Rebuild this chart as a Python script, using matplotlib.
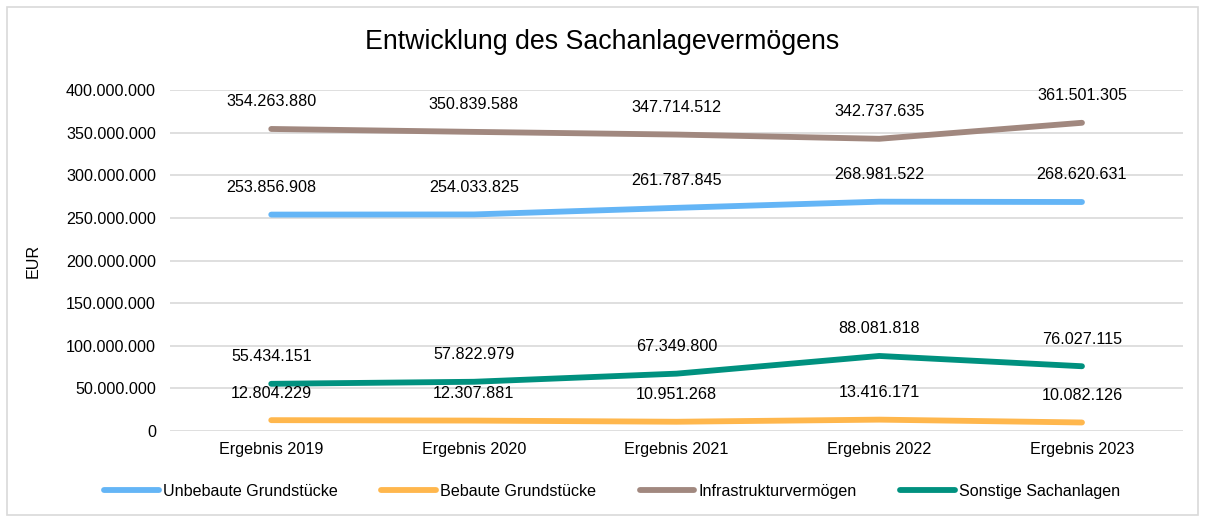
import matplotlib.pyplot as plt
from matplotlib.patches import Rectangle

plt.rcParams['font.family'] = ['Liberation Sans', 'DejaVu Sans']

years = ['Ergebnis 2019', 'Ergebnis 2020', 'Ergebnis 2021', 'Ergebnis 2022', 'Ergebnis 2023']
unbebaut = [253856908, 254033825, 261787845, 268981522, 268620631]
bebaut = [12804229, 12307881, 10951268, 13416171, 10082126]
infra = [354263880, 350839588, 347714512, 342737635, 361501305]
sonstige = [55434151, 57822979, 67349800, 88081818, 76027115]

series = [
    ('Unbebaute Grundstücke', unbebaut, '#64B5F6'),
    ('Bebaute Grundstücke', bebaut, '#FFB74D'),
    ('Infrastrukturvermögen', infra, '#A1887F'),
    ('Sonstige Sachanlagen', sonstige, '#00917F'),
]

FS = 11.6


def fmt(v):
    return f'{v:,.0f}'.replace(',', '.')


fig = plt.figure(figsize=(12.05, 5.2), dpi=100)
ax = fig.add_axes([0.141, 0.171, 0.841, 0.656])

x = range(len(years))
for name, vals, col in series:
    ax.plot(x, vals, color=col, lw=4.2, solid_capstyle='round', label=name)
    for xi, v in zip(x, vals):
        ax.annotate(fmt(v), (xi, v), xytext=(0, 19.5), textcoords='offset points',
                    ha='center', va='center', fontsize=FS)

ax.set_xlim(-0.5, 4.5)
ax.set_ylim(0, 400000000)
ax.set_yticks(range(0, 400000001, 50000000))
ax.set_yticklabels([fmt(v) for v in range(0, 400000001, 50000000)], fontsize=FS)
ax.set_xticks(list(x))
ax.set_xticklabels(years, fontsize=FS)
ax.tick_params(axis='y', length=0, pad=10)
ax.tick_params(axis='x', length=0, pad=8)
ax.grid(axis='y', color='#D9D9D9', lw=1.2)
ax.set_axisbelow(True)
for s in ax.spines.values():
    s.set_visible(False)
ax.set_ylabel('EUR', fontsize=FS, labelpad=18)

fig.suptitle('Entwicklung des Sachanlagevermögens', fontsize=19.3, y=0.945)

fig.legend(loc='center', bbox_to_anchor=(0.508, 0.055), ncol=4, frameon=False,
           fontsize=FS, handlelength=3.4, columnspacing=2.7, handletextpad=0.25)

fig.patches.append(Rectangle((0.006, 0.01), 0.988, 0.976, transform=fig.transFigure,
                             fill=False, edgecolor='#D9D9D9', lw=1.2))

fig.savefig('out.png', dpi=100)
